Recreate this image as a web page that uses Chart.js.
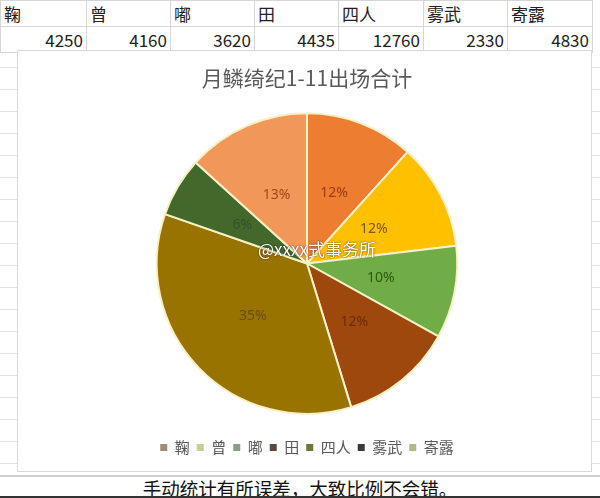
<!DOCTYPE html>
<html>
<head>
<meta charset="utf-8">
<script src="https://cdn.jsdelivr.net/npm/chart.js@4/dist/chart.umd.min.js"></script>
<style>
  body { margin: 0; width: 600px; height: 498px; overflow: hidden; position: relative; background: #fff;
         font-family: "Noto Sans CJK SC", "Noto Sans", sans-serif; }
  .grid { position: absolute; left: 0; top: 46px; width: 600px; height: 432px;
          background-image: repeating-linear-gradient(to bottom, transparent 0, transparent 21px, #e2e2e2 21px, #e2e2e2 22px); }
  table { position: absolute; left: 0; top: 0; border-collapse: collapse; table-layout: fixed; background: #fff; }
  td { border: 1px solid #d6d6d6; padding: 0 3px; font-size: 17px; color: #222; overflow: hidden; white-space: nowrap; }
  tr.head td { height: 23px; text-align: left; }
  tr.num td { height: 21px; text-align: right; }
  .box { position: absolute; left: 17px; top: 50px; width: 573px; height: 420px; border: 1px solid #d9d9d9; background: #fff; }
  .caption { position: absolute; left: 0; top: 475px; width: 600px; height: 23px; border-top: 2px solid #cfcfcf;
             text-align: center; font-size: 18.5px; line-height: 22px; color: #111; background: #fff; }
  .edge { position: absolute; left: 0; top: 496px; width: 600px; height: 2px; background: #333; }
  .mark { position: absolute; left: 258px; top: 236px; font-size: 17px; color: #fff;
          text-shadow: 0 0 2px rgba(0,0,0,.55), 0 0 1px rgba(0,0,0,.5); }
</style>
</head>
<body>
<div class="grid"></div>
<table id="sheet"></table>
<div class="box"><canvas id="pie" width="573" height="420"></canvas></div>
<div class="mark">@xxxx式事务所</div>
<div class="caption">手动统计有所误差，大致比例不会错。</div>
<div class="edge"></div>
<script>
// ============ Data ============
const names = ['鞠', '曾', '嘟', '田', '四人', '雾武', '寄露'];
const counts = [4250, 4160, 3620, 4435, 12760, 2330, 4830];
const sliceColors = ['#ED7D31', '#FFC000', '#70AD47', '#9E480E', '#997300', '#43682B', '#F1975A'];
const labelColors = ['#9c3c0c', '#7a5600', '#2a5a10', '#6a2c08', '#6a5010', '#34502a', '#a3441a'];
const legendColors = ['#a08a78', '#c8d09a', '#8f9a8a', '#5a4a40', '#6a7a3a', '#3a3a3a', '#b0b890'];
const colWidths = [86, 84, 84, 84, 85, 84, 85];

// ============ Sheet rows ============
const sheet = document.getElementById('sheet');
const headRow = sheet.insertRow(); headRow.className = 'head';
const numRow = sheet.insertRow(); numRow.className = 'num';
names.forEach((n, i) => {
    const h = headRow.insertCell(); h.textContent = n; h.style.width = (colWidths[i] - 7) + 'px';
    const c = numRow.insertCell(); c.textContent = counts[i];
});

// ============ Percent labels (rounded so they add up to 100) ============
const total = counts.reduce((a, b) => a + b, 0);
const raw = counts.map(v => v / total * 100);
const pcts = raw.map(Math.floor);
let left = 100 - pcts.reduce((a, b) => a + b, 0);
raw.map((r, i) => [r - Math.floor(r), i]).sort((a, b) => b[0] - a[0])
    .slice(0, left).forEach(([, i]) => { pcts[i] += 1; });

const pctLabels = {
    id: 'pctLabels',
    afterDatasetsDraw(chart) {
        const ctx = chart.ctx;
        const meta = chart.getDatasetMeta(0);
        ctx.save();
        ctx.font = '14px "Noto Sans", sans-serif';
        ctx.textAlign = 'center';
        ctx.textBaseline = 'middle';
        meta.data.forEach((arc, i) => {
            const p = arc.tooltipPosition();
            ctx.fillStyle = labelColors[i];
            ctx.fillText(pcts[i] + '%', p.x, p.y);
        });
        ctx.restore();
    }
};

// ============ Chart ============
new Chart(document.getElementById('pie'), {
    type: 'pie',
    data: {
        labels: names,
        datasets: [{ data: counts, backgroundColor: sliceColors, borderColor: '#f8f0c6', borderWidth: 2 }]
    },
    options: {
        responsive: false,
        animation: false,
        layout: { padding: { left: 5, right: 0, top: 0, bottom: 6 } },
        plugins: {
            tooltip: { enabled: false },
            title: {
                display: true,
                text: '月鳞绮纪1-11出场合计',
                color: '#595959',
                font: { size: 21, weight: 'normal', family: '"Noto Sans CJK SC", sans-serif' },
                padding: { top: 14, bottom: 22 }
            },
            legend: {
                position: 'bottom',
                title: { display: true, text: '', font: { size: 1 }, padding: { top: 17, bottom: 0 } },
                labels: {
                    boxWidth: 7, boxHeight: 7, padding: 7, color: '#595959',
                    font: { size: 15, family: '"Noto Sans CJK SC", sans-serif' },
                    generateLabels(chart) {
                        return names.map((n, i) => ({
                            text: n, fillStyle: legendColors[i], strokeStyle: legendColors[i],
                            lineWidth: 0, fontColor: '#595959', index: i, hidden: false
                        }));
                    }
                }
            }
        }
    },
    plugins: [pctLabels]
});
</script>
</body>
</html>
